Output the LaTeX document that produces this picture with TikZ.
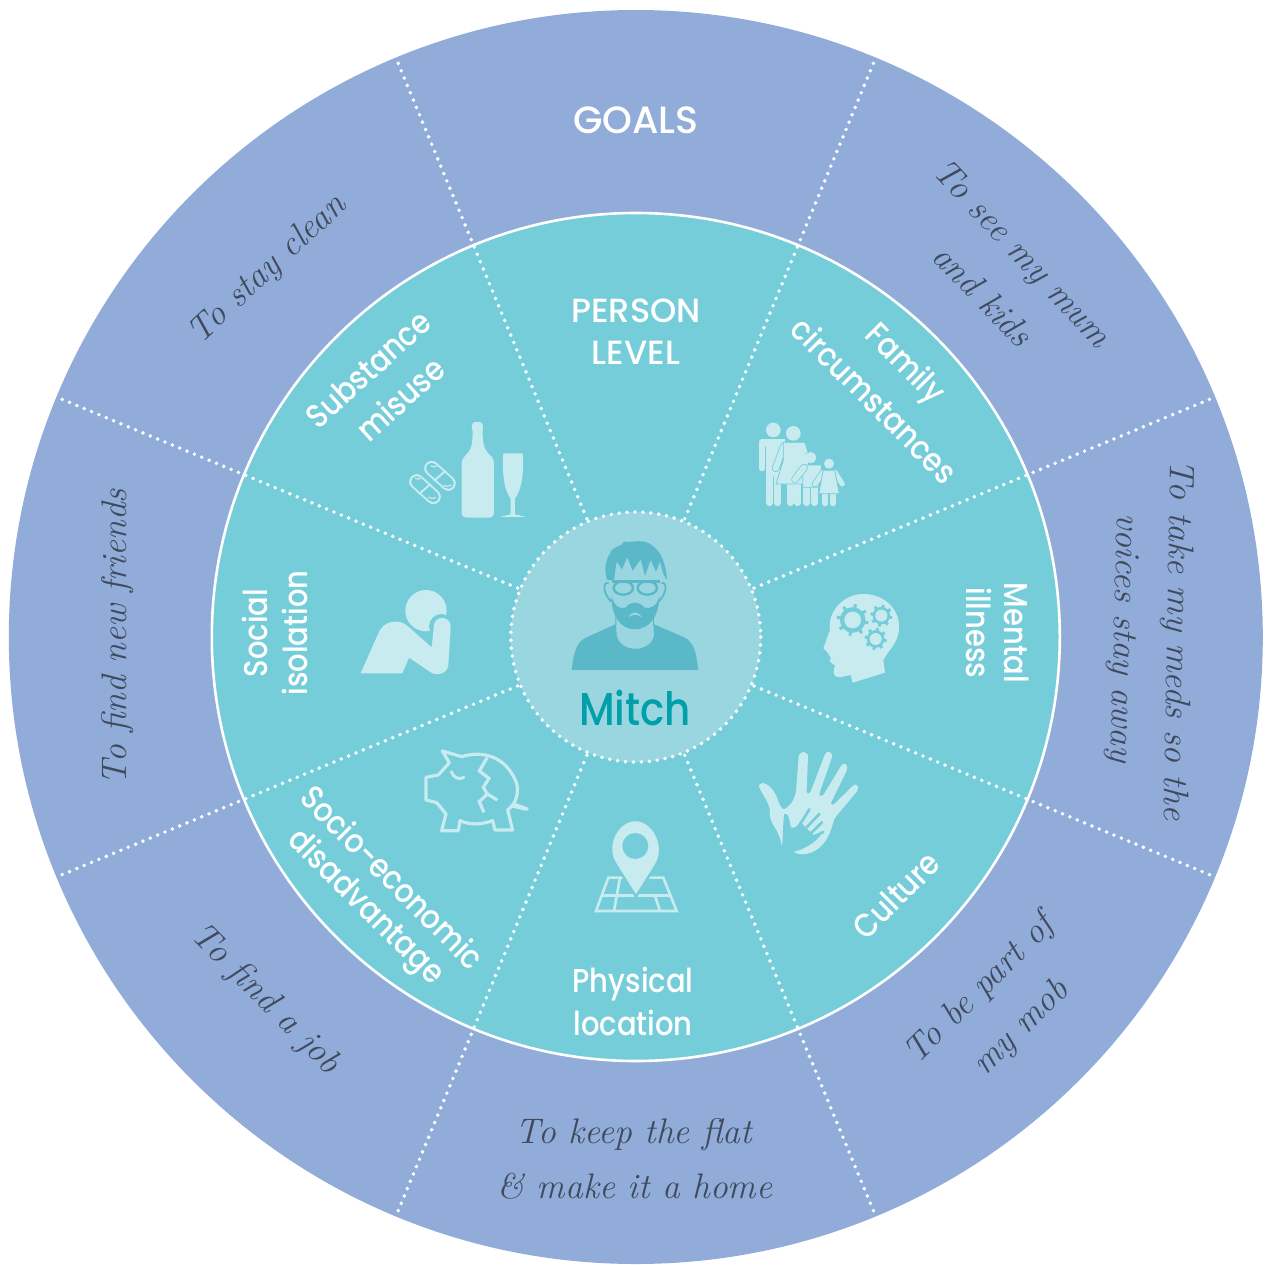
\documentclass[tikz,border=0pt]{standalone}
\usepackage{fontspec}
\usetikzlibrary{calc}
\newfontfamily\geo{Poppins Medium}[FakeStretch=0.88]
\newfontfamily\geocaps{Poppins Medium}
\newcommand{\hand}{\rmfamily}
\definecolor{ringc}{HTML}{92ACD9}
\definecolor{sect}{HTML}{75CDD9}
\definecolor{hub}{HTML}{9AD6E0}
\definecolor{pers}{HTML}{5BB8C8}
\definecolor{lite}{HTML}{C8EBF0}
\definecolor{tealc}{HTML}{009FAA}
\definecolor{inkc}{HTML}{3F4A5C}
\tikzset{
 spoke/.style={white,line width=3.9pt,line cap=round,dash pattern=on 0pt off 7.95pt},
 lab/.style={white,font=\geo\fontsize{33}{36}\selectfont,inner sep=0pt},
 capslab/.style={white,font=\geocaps\fontsize{33.5}{36}\selectfont,inner sep=0pt},
 wish/.style={inkc,font=\hand\itshape\fontsize{35.5}{40}\selectfont,inner sep=0pt},
 ic/.style={fill=lite,draw=none},
 fam/.style={fill=lite,draw=sect,line width=0.8pt},
 limb/.style={draw=lite,line cap=round},
}
\newcommand{\gearshape}[4]{%
 \fill[sect] (#1,#2) circle[radius=#3*0.8];
 \foreach \a in {0,45,...,315} {\draw[sect,line width=3pt] (#1,#2) ++(\a+10:#3*0.7) -- ++(\a+10:#3*0.3);}
 \fill[lite] (#1,#2) circle[radius=#4];
}
\begin{document}
\begin{tikzpicture}[x=1pt,y=-1pt]
\useasboundingbox (0,0) rectangle (1266,1264);
\coordinate (c) at (635.8,637);
\fill[ringc] (c) circle[radius=627];
\fill[sect,draw=white,line width=2.6pt] (c) circle[radius=424];
\fill[hub] (c) circle[radius=125];
\foreach \a in {22.5,67.5,...,337.5} {
  \draw[spoke] ($(c)+(\a:128)$) -- ($(c)+(\a:627)$);
}
\draw[spoke] (c) circle[radius=125];

% person
\begin{scope}[shift={(500,500)},x=0.3333pt,y=-0.3333pt]
 \fill[pers] (215,510) .. controls (222,450) and (232,425) .. (258,413) -- (348,372) -- (350,405) .. controls (358,460) and (455,460) .. (462,405) -- (460,372) -- (555,413) .. controls (580,428) and (588,450) .. (595,510) -- cycle;
 \draw[pers,line width=0.9pt] (347,335) -- (348,375);
 \draw[pers,line width=0.9pt] (460,335) -- (460,375);
 \fill[pers] (322,240) .. controls (310,210) and (318,180) .. (330,160) .. controls (340,135) and (360,145) .. (372,125) .. controls (400,128) and (430,115) .. (455,135) .. controls (485,155) and (498,195) .. (501,240) -- (490,222) -- (480,185) -- (468,215) -- (452,180) -- (435,228) -- (422,178) -- (398,212) -- (382,172) -- (366,208) -- (350,185) -- (342,240) -- cycle;
 \draw[pers,line width=1.8pt] (326,250) .. controls (306,242) and (310,285) .. (335,305);
 \draw[pers,line width=1.8pt] (484,250) .. controls (504,242) and (500,285) .. (475,305);
 \draw[pers,line width=2.6pt] (335,245) -- (480,245);
 \draw[pers,line width=2.4pt] (370,264) ellipse[x radius=29,y radius=20];
 \draw[pers,line width=2.4pt] (442,264) ellipse[x radius=29,y radius=20];
 \fill[pers] (335,288) .. controls (333,345) and (360,388) .. (405,388) .. controls (450,388) and (478,345) .. (478,288) .. controls (472,318) and (450,330) .. (432,322) .. controls (420,303) and (390,303) .. (378,322) .. controls (360,330) and (342,318) .. (335,288) -- cycle;
 \fill[hub] (385,352) .. controls (392,335) and (415,330) .. (425,352) .. controls (415,342) and (395,342) .. (385,352) -- cycle;
\end{scope}

% pills and bottle
\begin{scope}[shift={(390,400)},x=0.3333pt,y=-0.3333pt]
 \draw[lite,line width=15pt,line cap=round] (80,245) -- (130,290);
 \draw[sect,line width=11pt,line cap=round] (80,245) -- (130,290);
 \draw[lite,line width=15pt,line cap=round] (125,205) -- (175,250);
 \draw[sect,line width=11pt,line cap=round] (125,205) -- (175,250);
 \draw[lite,line width=2pt] (87,282) -- (122,252);
 \draw[lite,line width=2pt] (132,243) -- (167,212);
 \draw[lite,line width=1.2pt] (75,235) .. controls (80,238) and (88,238) .. (92,235);
 \draw[lite,line width=1.2pt] (122,198) .. controls (127,201) and (135,201) .. (140,198);
 \draw[lite,line width=1.2pt] (115,292) .. controls (122,296) and (132,296) .. (138,292);
 \draw[lite,line width=1.2pt] (160,256) .. controls (167,260) and (177,260) .. (185,255);
 \fill[lite] (245,75) .. controls (245,62) and (279,62) .. (279,75) -- (278,95) .. controls (278,130) and (282,150) .. (300,165) .. controls (310,175) and (312,180) .. (312,195) -- (312,335) .. controls (312,350) and (305,353) .. (295,353) -- (232,353) .. controls (220,353) and (215,348) .. (215,335) -- (215,195) .. controls (215,180) and (218,175) .. (228,165) .. controls (245,150) and (248,130) .. (248,95) -- cycle;
 \fill[lite] (340,160) -- (398,160) .. controls (402,220) and (395,270) .. (375,296) -- (375,343) -- (408,351) -- (330,351) -- (362,343) -- (362,296) .. controls (342,270) and (336,220) .. (340,160) -- cycle;
\end{scope}

% family
\begin{scope}[shift={(740,410)},x=0.3333pt,y=-0.3333pt]
 \fill[lite] (100,60) circle[radius=22];
 \fill[lite] (66,87) -- (135,87) -- (135,110) -- (122,110) -- (122,200) -- (78,200) -- (78,110) -- (57,110) -- (57,96) -- cycle;
 \draw[limb,line width=6pt] (66,96) -- (66,175);
 \draw[limb,line width=7pt] (89,195) -- (89,278);
 \draw[limb,line width=7pt] (112,195) -- (112,278);
 \draw[limb,line width=7pt] (150,220) -- (150,278);
 \draw[limb,line width=7pt] (172,220) -- (172,278);
 \draw[sect,line width=7.6pt,line cap=round] (132,108) -- (107,175);
 \draw[limb,line width=6pt] (132,108) -- (107,175);
 \fill[lite] (160,70) circle[radius=22];
 \path[fam] (130,97) -- (195,97) -- (205,130) -- (198,130) -- (222,222) -- (108,222) -- (130,150) -- cycle;
 \draw[limb,line width=7pt] (200,225) -- (200,278);
 \draw[limb,line width=7pt] (224,225) -- (224,278);
 \path[fam] (188,165) -- (245,165) -- (236,232) -- (188,232) -- cycle;
 \draw[sect,line width=7.6pt,line cap=round] (192,173) -- (165,208);
 \draw[limb,line width=6pt] (192,173) -- (165,208);
 \fill[lite] (212,143) circle[radius=17];
 \draw[sect,line width=6.5pt,line cap=round] (250,187) -- (225,222);
 \draw[limb,line width=5pt] (250,187) -- (225,222);
 \draw[limb,line width=5pt] (285,187) -- (307,222);
 \draw[limb,line width=6pt] (256,250) -- (256,280);
 \draw[limb,line width=6pt] (279,250) -- (279,280);
 \path[fam] (250,181) -- (284,181) -- (298,251) -- (236,251) -- cycle;
 \fill[lite] (267,161) circle[radius=15];
\end{scope}

% head with gears
\begin{scope}[shift={(740,410)},x=0.3333pt,y=-0.3333pt]
 \fill[ic] (270,660) .. controls (262,600) and (315,552) .. (370,552) .. controls (435,552) and (478,600) .. (477,650) .. controls (477,700) and (445,720) .. (430,750) -- (435,788) -- (338,818) -- (332,795) -- (300,802) .. controls (285,802) and (278,795) .. (282,775) -- (286,768) -- (270,755) -- (272,742) -- (263,728) -- (250,715) -- cycle;
 \gearshape{338}{630}{48}{25}
 \gearshape{424}{617}{33}{18}
 \gearshape{407}{687}{33}{18}
\end{scope}

% isolation and piggy
\begin{scope}[shift={(340,570)},x=0.3333pt,y=-0.3333pt]
 \fill[ic] (258,122) circle[radius=62];
 \fill[sect] (305,170) circle[radius=38];
 \fill[ic] (62,310) -- (115,190) .. controls (130,150) and (180,145) .. (205,170) -- (275,232) -- (282,165) .. controls (285,135) and (335,135) .. (332,175) -- (325,285) .. controls (322,315) and (285,320) .. (265,302) -- (207,263) -- (187,310) -- cycle;
 \draw[lite,line width=3.2pt,line join=round] (307,543) -- (365,560) .. controls (430,540) and (500,560) .. (530,640) .. controls (536,665) and (530,685) .. (522,700) -- (512,712) -- (503,720) -- (518,780) -- (465,780) -- (458,752) .. controls (420,765) and (390,765) .. (360,752) -- (355,782) -- (305,782) -- (318,732) -- (290,698) -- (258,690) -- (258,622) -- (295,615) -- (328,578) -- cycle;
 \draw[lite,line width=3pt,line cap=round] (334,605) .. controls (340,625) and (360,630) .. (372,622);
 \draw[lite,line width=3.2pt] (442,562) -- (418,603) -- (447,625) -- (430,652) -- (442,672) -- (418,695) -- (432,727);
 \draw[lite,line width=3.2pt] (442,672) -- (472,690);
 \fill[lite] (520,697) -- (562,712) .. controls (570,718) and (565,724) .. (555,722) -- (512,712) -- cycle;
\end{scope}

% map pin and hands
\begin{scope}[shift={(580,740)},x=0.3333pt,y=-0.3333pt]
 \draw[lite,line width=2.6pt,line join=miter] (85,413) -- (250,413) -- (290,513) -- (48,513) -- cycle;
 \draw[lite,line width=2.6pt] (62,467) -- (272,467);
 \draw[lite,line width=2.6pt] (120,413) -- (102,513);
 \draw[lite,line width=2.6pt] (225,467) -- (240,513);
 \draw[sect,line width=2.4pt,fill=lite] (168,470) -- (108,375) .. controls (70,320) and (110,240) .. (166,240) .. controls (222,240) and (262,320) .. (228,375) -- cycle;
 \fill[sect] (166,318) circle[radius=39];
 \fill[ic] (604,314) .. controls (600,270) and (565,250) .. (570,215) .. controls (570,185) and (535,150) .. (537,135) .. controls (545,120) and (575,135) .. (590,170) .. controls (598,195) and (605,207) .. (612,208) .. controls (635,195) and (645,175) .. (648,155) -- (656,50) .. controls (660,30) and (685,32) .. (684,52) -- (680,155) .. controls (682,165) and (690,160) .. (692,155) -- (733,48) .. controls (742,25) and (760,35) .. (755,55) -- (718,160) .. controls (718,170) and (726,170) .. (730,165) -- (782,80) .. controls (792,62) and (808,75) .. (800,92) -- (752,190) .. controls (752,198) and (760,195) .. (765,190) -- (818,138) .. controls (830,125) and (840,142) .. (830,155) -- (772,225) .. controls (755,240) and (760,270) .. (735,305) .. controls (715,335) and (670,355) .. (640,335) .. controls (680,325) and (710,305) .. (722,285) -- cycle;
 \fill[sect] (606,316) .. controls (610,290) and (608,250) .. (613,222) .. controls (625,215) and (630,245) .. (632,262) .. controls (645,268) and (655,255) .. (660,245) -- (700,285) -- (730,275) .. controls (700,310) and (670,330) .. (640,335) .. controls (625,332) and (612,325) .. (606,316) -- cycle;
 \draw[sect,line width=2.6pt,line cap=round] (662,250) -- (688,208);
 \draw[sect,line width=2.6pt,line cap=round] (680,262) -- (718,222);
 \draw[sect,line width=2.6pt,line cap=round] (688,285) -- (726,247);
 \draw[sect,line width=2.6pt,line cap=round] (692,296) -- (730,276);
\end{scope}

% labels
\node[capslab,font=\geocaps\fontsize{38}{40}\selectfont] (goals) at (636,120) {GOALS};
\node[capslab] (person) at (636,311) {PERSON};
\node[capslab] (level) at (636,353) {LEVEL};
\node[lab,rotate=42] (subst) at (368,369) {Substance};
\node[lab,rotate=42] (misuse) at (400,399) {misuse};
\node[lab,rotate=-45] (family) at (904,365) {Family};
\node[lab,rotate=-45] (circ) at (875,400) {circumstances};
\node[lab,rotate=-90] (mental) at (1017,633) {Mental};
\node[lab,rotate=-90] (illness) at (979,633) {illness};
\node[lab,rotate=45] (culture) at (896,895) {Culture};
\node[lab] (phys) at (633,984) {Physical};
\node[lab] (loc) at (633,1023) {location};
\node[lab,rotate=-45] (socio) at (393,877) {Socio-economic};
\node[lab,rotate=-45] (disadv) at (365,908) {disadvantage};
\node[lab,rotate=90] (social) at (255,633) {Social};
\node[lab,rotate=90] (isol) at (295,633) {isolation};
\node[lab,text=tealc,font=\geo\fontsize{46}{50}\selectfont] (mitch) at (635,708) {Mitch};

% outer wishes
\node[wish,rotate=43] (w1) at (268,270) {To stay clean};
\node[wish,rotate=-47] (w2) at (1020,255) {To see my mum};
\node[wish,rotate=-46] (w3) at (983,295) {and kids};
\node[wish,rotate=-91] (w4) at (1176,640) {To take my meds so the};
\node[wish,rotate=-91.5] (w5) at (1122,638) {voices stay away};
\node[wish,rotate=45] (w6) at (980,990) {To be part of};
\node[wish,rotate=45] (w7) at (1022,1028) {my mob};
\node[wish] (w8) at (634,1135) {To keep the flat};
\node[wish] (w9) at (635,1186) {\& make it a home};
\node[wish,rotate=-45] (w10) at (265,1000) {To find a job};
\node[wish,rotate=90] (w11) at (118,637) {To find new friends};
\end{tikzpicture}
\end{document}
